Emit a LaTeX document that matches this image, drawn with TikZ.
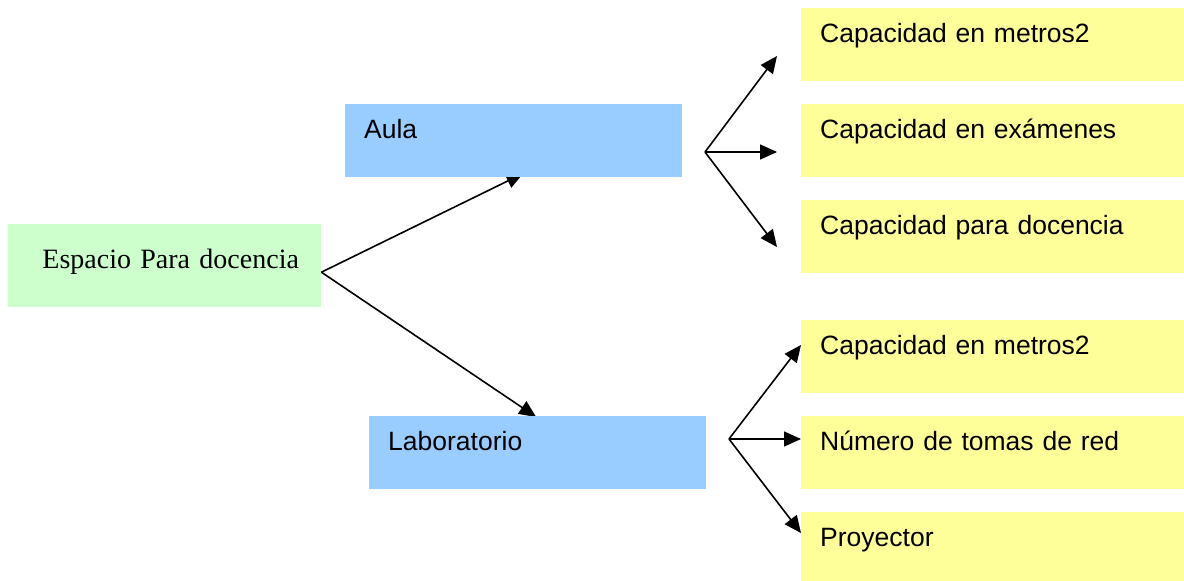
\documentclass[tikz,border=0pt]{standalone}
\usepackage{fontspec}
\setmainfont{Liberation Sans}
\newfontfamily\timesfont{Liberation Serif}
\usetikzlibrary{arrows.meta}
\usetikzlibrary{backgrounds}
\definecolor{espgreen}{HTML}{CCFFCC}
\definecolor{tipoblue}{HTML}{99CCFF}
\definecolor{propyellow}{HTML}{FFFF99}
\tikzset{
  espbox/.style={fill=espgreen, anchor=north west, inner sep=0pt,
      text width=313pt, align=center, text height=44pt, text depth=39pt,
      font=\timesfont\fontsize{28}{32}\selectfont},
  tipobox/.style={fill=tipoblue, anchor=north west, inner xsep=19pt,
      inner ysep=0pt, text width=299pt, align=left, text height=34pt,
      text depth=39pt, font=\fontsize{26.5}{30}\selectfont},
  propbox/.style={tipobox, fill=propyellow, text width=345pt},
  flecha/.style={-{Triangle[length=17pt,width=15pt]}, line width=1.6pt},
}
\begin{document}
\begin{tikzpicture}[x=1pt, y=-1pt]
      \useasboundingbox (0,0) rectangle (1184,581);

      \node [espbox] (esp) at (8,224) {\hspace*{12pt}Espacio Para docencia};
      \node [tipobox] (aula) at (345,104) {Aula};
      \node [tipobox] (lab) at (369,416) {Laboratorio};

      \node [propbox] (aulamet) at (801,8) {Capacidad en metros2};
      \node [propbox] (aulaexa) at (801,104) {Capacidad en exámenes};
      \node [propbox] (auladoc) at (801,200) {Capacidad para docencia};
      \node [propbox] (labmet) at (801,320) {Capacidad en metros2};
      \node [propbox] (labred) at (801,416) {Número de tomas de red};
      \node [propbox] (labpro) at (801,512) {Proyector};

      \coordinate (aulafan) at (705,152);
      \coordinate (labfan) at (729,439);
      \foreach \y [count=\i] in {56,152,247}
        \coordinate (aulap\i) at (777,\y);
      \foreach \y [count=\i] in {345,439,533}
        \coordinate (labp\i) at (801,\y);

      \begin{scope}[on background layer]
        \draw [flecha] ([yshift=-6.5pt]esp.east) -- ([xshift=9.5pt,yshift=4pt]aula.south);
        \draw [flecha] ([yshift=-6.5pt]esp.east) -- ([xshift=-1.5pt,yshift=-1pt]lab.north);
      \end{scope}

      \foreach \i in {1,2,3}
        \draw [flecha] (aulafan) -- (aulap\i);
      \foreach \i in {1,2,3}
        \draw [flecha] (labfan) -- (labp\i);

    \end{tikzpicture}
\end{document}
